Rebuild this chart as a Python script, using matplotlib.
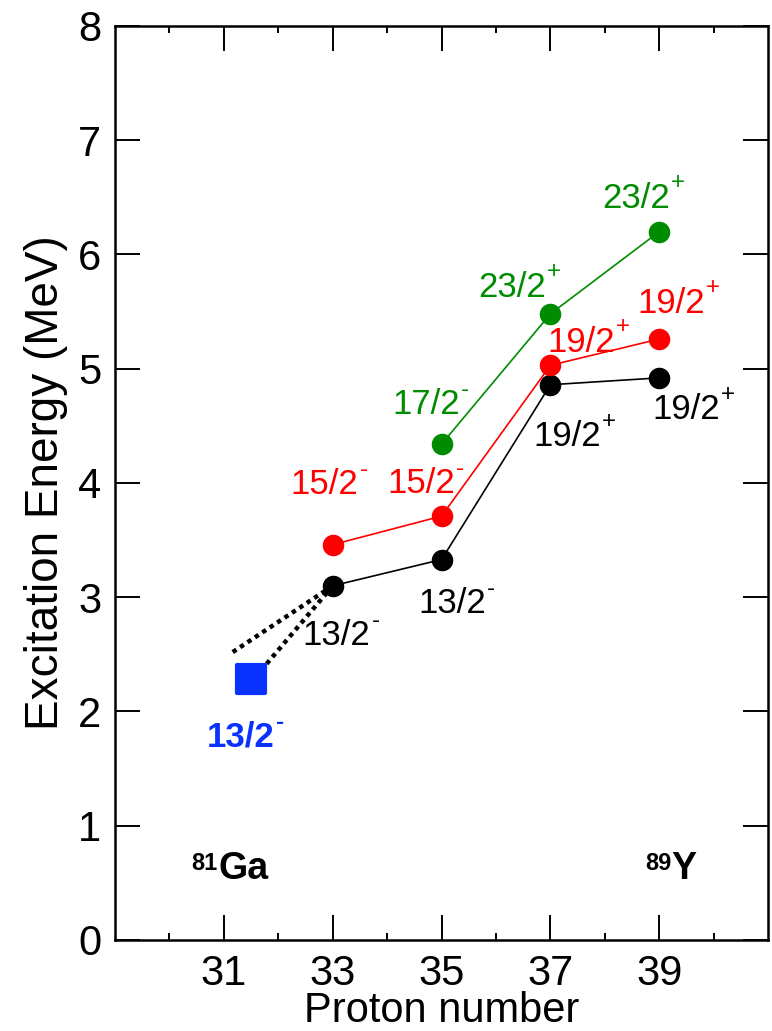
import matplotlib
matplotlib.use("Agg")
import matplotlib.pyplot as plt
from matplotlib.markers import MarkerStyle
from matplotlib.ticker import MultipleLocator

plt.rcParams["font.family"] = ["Liberation Sans", "DejaVu Sans"]

# Données
z_black = [33, 35, 37, 39]
e_black = [3.10, 3.33, 4.86, 4.92]
j_black = ["13/2", "13/2", "19/2", "19/2"]
p_black = ["-", "-", "+", "+"]

z_red = [33, 35, 37, 39]
e_red = [3.46, 3.71, 5.03, 5.26]
j_red = ["15/2", "15/2", "19/2", "19/2"]
p_red = ["-", "-", "+", "+"]

z_green = [35, 37, 39]
e_green = [4.34, 5.48, 6.20]
j_green = ["17/2", "23/2", "23/2"]
p_green = ["-", "+", "+"]

z_ga = [31.5]
e_ga = [2.28]
j_ga = ["13/2"]
p_ga = ["-"]

# Extrapolations en pointillés (depuis Z=33)
dot_x = [[33, 31.1], [33, 31.72]]
dot_y = [[3.10, 2.50], [3.10, 2.38]]

# Placement des étiquettes (coin bas-gauche du texte, en coordonnées données)
lab_black = [(32.45, 2.58), (34.57, 2.86), (36.68, 4.32), (38.87, 4.56)]
lab_red = [(32.22, 3.90), (34.0, 3.91), (36.94, 5.15), (38.59, 5.49)]
lab_green = [(34.09, 4.60), (35.67, 5.63), (37.95, 6.41)]
lab_ga = [(30.69, 1.69)]

GREEN = "#008c00"
RED = "#ff0000"
BLUE = "#0a32ff"

fig = plt.figure(figsize=(7.72, 10.31), dpi=100)
ax = fig.add_axes([0.149, 0.0883, 0.846, 0.8865])


def label(pos, main, sup, color, size=25, weight="normal"):
    t = ax.text(pos[0], pos[1], main, color=color, fontsize=size,
                fontweight=weight, ha="left", va="baseline")
    ax.annotate(sup, xy=(1.02, 0.95), xycoords=t, color=color,
                fontsize=size * 0.7, fontweight=weight,
                ha="left", va="center")


# Pointillés
for xs, ys in zip(dot_x, dot_y):
    ax.plot(xs, ys, color="black", linestyle=(0, (1, 1)), linewidth=3.2,
            zorder=2)

ax.plot(z_black, e_black, "-o", color="black", linewidth=1.2,
        markersize=14.5, zorder=3)
ax.plot(z_red, e_red, "-o", color=RED, linewidth=1.2,
        markersize=14.5, zorder=3)
ax.plot(z_green, e_green, "-o", color=GREEN, linewidth=1.2,
        markersize=14.5, zorder=3)
ax.plot(z_ga, e_ga, linestyle="none",
        marker=MarkerStyle("s", joinstyle="round"), color=BLUE,
        markersize=20, markeredgewidth=3, zorder=4)

for pos, j, p in zip(lab_black, j_black, p_black):
    label(pos, j, p, "black")
for pos, j, p in zip(lab_red, j_red, p_red):
    label(pos, j, p, RED)
for pos, j, p in zip(lab_green, j_green, p_green):
    label(pos, j, p, GREEN)
for pos, j, p in zip(lab_ga, j_ga, p_ga):
    label(pos, j, p, BLUE, size=25, weight="bold")

# Noyaux aux extrémités
for x, y, mass, sym in [(30.9, 0.53, "81", "Ga"), (39.23, 0.53, "89", "Y")]:
    t = ax.text(x, y, sym, fontsize=27, fontweight="bold", ha="left",
                va="baseline")
    ax.annotate(mass, xy=(-0.02, 0.98), xycoords=t, fontsize=17,
                fontweight="bold", ha="right", va="top")

ax.set_xlim(29, 41)
ax.set_ylim(0, 8)
ax.set_xticks([31, 33, 35, 37, 39])
ax.set_xticks([30, 32, 34, 36, 38, 40], minor=True)
ax.yaxis.set_major_locator(MultipleLocator(1))

ax.tick_params(which="both", direction="in", top=True, right=True,
               labelsize=30, width=1.4, pad=10)
ax.tick_params(which="major", length=18)
ax.tick_params(which="minor", length=5)
for s in ax.spines.values():
    s.set_linewidth(1.8)

ax.set_xlabel("Proton number", fontsize=30, labelpad=-2)
ax.set_ylabel("Excitation Energy (MeV)", fontsize=33, labelpad=7)

plt.savefig("out.png", dpi=100)
print("Sauvegardé : out.png")
